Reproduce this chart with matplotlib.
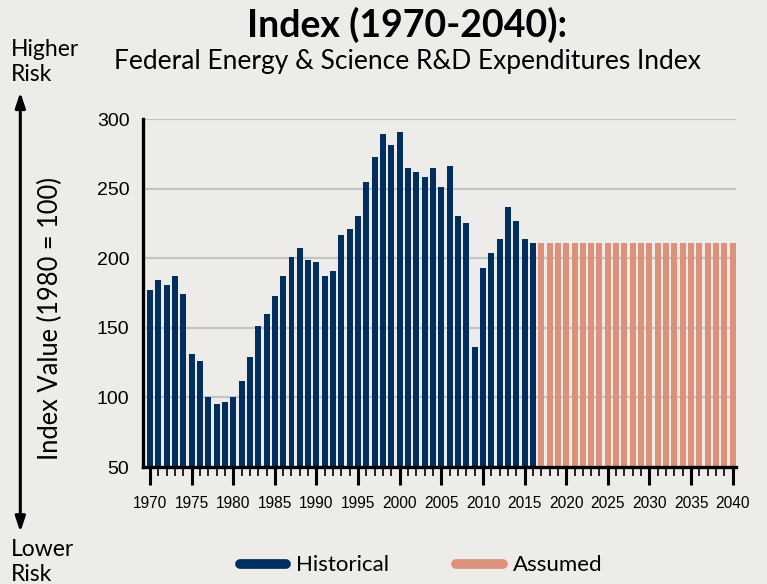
import matplotlib
matplotlib.use("Agg")
import matplotlib.pyplot as plt
from matplotlib.lines import Line2D
from matplotlib.ticker import MultipleLocator

# federal energy & science R&D expenditures index, 1980 = 100
hist_years = list(range(1970, 2017))
hist_values = [177, 184, 181, 187, 174, 131, 126, 100, 95, 97,
               100, 112, 129, 151, 160, 173, 187, 201, 207, 199,
               197, 187, 191, 217, 221, 230, 255, 273, 289, 281,
               291, 265, 262, 258, 265, 251, 266, 230, 225, 136,
               193, 204, 214, 237, 227, 214, 211]
assumed_years = list(range(2017, 2041))
assumed_values = [211] * len(assumed_years)
x_ticks = list(range(1970, 2041, 5))
y_ticks = [50, 100, 150, 200, 250, 300]

BG = "#EDECE8"
NAVY = "#002E5F"
SALMON = "#DB917A"
TICKFONT = "Liberation Sans"
MAIN = "Lato"

fig = plt.figure(figsize=(7.67, 5.84), dpi=100, facecolor=BG)
ax = fig.add_axes([0.186, 0.2003, 0.7736, 0.5959])
ax.set_facecolor(BG)

ax.bar(hist_years, hist_values, width=0.72, color=NAVY, zorder=2)
ax.bar(assumed_years, assumed_values, width=0.72, color=SALMON, zorder=2)

ax.set_ylim(50, 300)
ax.set_xlim(1969.12, 2040.4)
ax.set_yticks(y_ticks)
ax.yaxis.grid(True, color="#C4C4C4", linewidth=1.6, zorder=0)
ax.set_axisbelow(True)

ax.set_xticks(x_ticks)
ax.xaxis.set_minor_locator(MultipleLocator(1))
ax.tick_params(axis="x", which="major", length=13, width=2.2, color="black",
               pad=8, labelsize=11.2, labelfontfamily=TICKFONT)
ax.tick_params(axis="x", which="minor", length=6.5, width=1.4, color="#222222")
ax.tick_params(axis="y", length=0, pad=9.5, labelsize=14,
               labelfontfamily=TICKFONT)

for side in ("top", "right"):
    ax.spines[side].set_visible(False)
for side in ("left", "bottom"):
    ax.spines[side].set_linewidth(2.4)
    ax.spines[side].set_color("black")

fig.text(0.066, 0.454, "Index Value (1980 = 100)", rotation=90,
         ha="center", va="center", family=MAIN, fontsize=18.4)

fig.text(0.531, 0.958, "Index (1970-2040):", ha="center", va="center",
         family=MAIN, fontweight="bold", fontsize=27)
fig.text(0.531, 0.895, "Federal Energy & Science R&D Expenditures Index",
         ha="center", va="center", family=MAIN, fontsize=19)

# risk direction arrow along the left edge
fig.text(0.014, 0.894, "Higher\nRisk", ha="left", va="center", family=MAIN,
         fontsize=16.5, linespacing=1.2)
fig.text(0.014, 0.038, "Lower\nRisk", ha="left", va="center", family=MAIN,
         fontsize=16.5, linespacing=1.2)
ax.annotate("", xy=(0.0265, 0.842), xytext=(0.0265, 0.089),
            xycoords="figure fraction",
            arrowprops=dict(arrowstyle="<|-|>,head_length=0.9,head_width=0.3",
                            color="black", lw=2.2, shrinkA=0, shrinkB=0))

handles = [Line2D([], [], color=NAVY, lw=7, solid_capstyle="round"),
           Line2D([], [], color=SALMON, lw=7, solid_capstyle="round")]
fig.legend(handles, ["Historical", "Assumed"], loc="center",
           bbox_to_anchor=(0.549, 0.032), ncol=2, frameon=False,
           prop={"family": MAIN, "size": 16}, handlelength=2.1,
           columnspacing=3.0, handletextpad=0.45)

fig.savefig("out.png", dpi=100, facecolor=BG)
